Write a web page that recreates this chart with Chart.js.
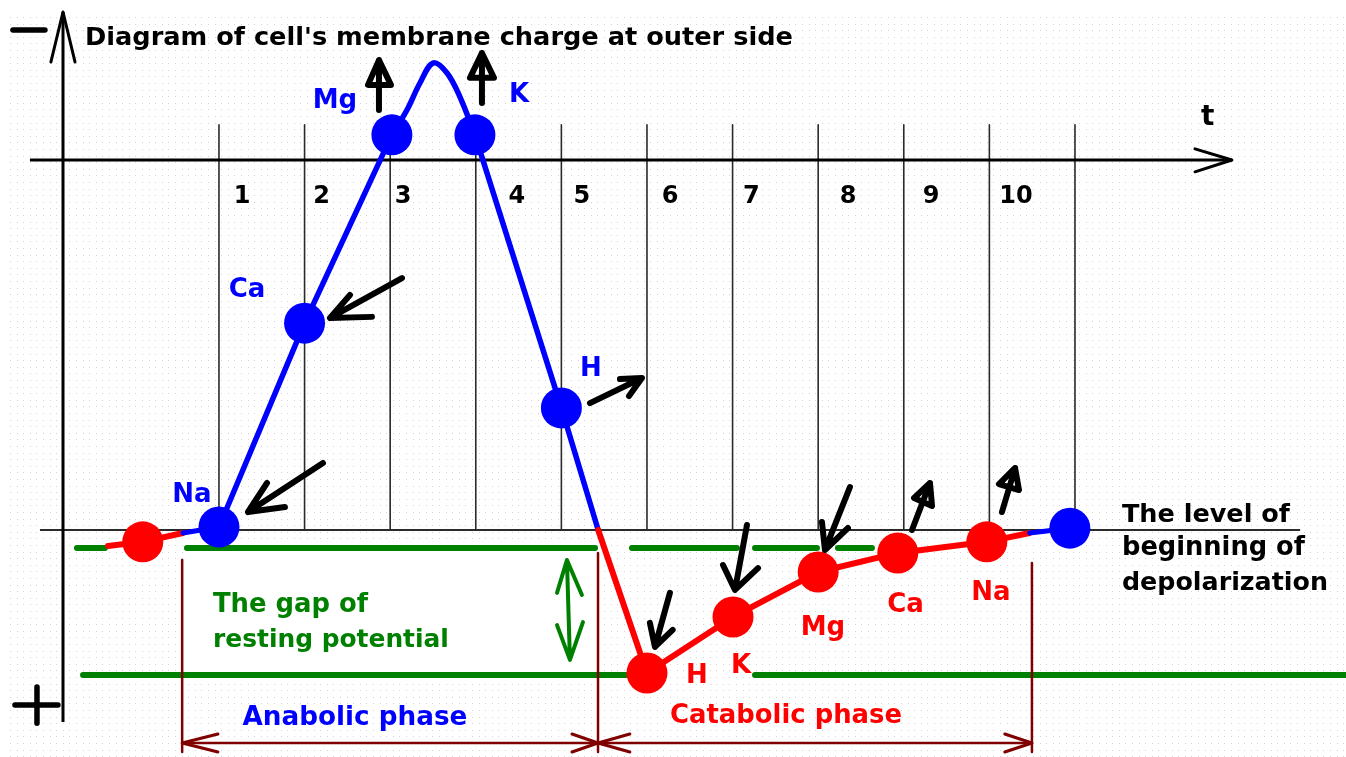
<!DOCTYPE html>
<html>
<head>
<meta charset="utf-8">
<script src="https://cdn.jsdelivr.net/npm/chart.js@4.4.1/dist/chart.umd.min.js"></script>
<style>
html,body{margin:0;padding:0;background:#fff;overflow:hidden;}
#wrap{width:1346px;height:757px;position:relative;}
</style>
</head>
<body>
<div id="wrap"><canvas id="c"></canvas></div>
<script>
// ---------------- DATA (x = time steps, y = membrane charge level) ----------------
const title = "Diagram of cell's membrane charge at outer side";
const tickLabels = ['1','2','3','4','5','6','7','8','9','10'];
const tickLabelX = [1.27, 2.20, 3.15, 4.48, 5.24, 6.27, 7.22, 8.35, 9.32, 10.31];
const tickLabelY = 8.84;
const gridX = [1,2,3,4,5,6,7,8,9,10,11];
const gridTop = 10.95;

// anabolic phase (blue)
const anaIons   = ['Na','Ca','Mg','K','H'];
const anaX      = [1.0, 2.0, 3.02, 3.99, 5.0];
const anaY      = [0.08, 5.59, 10.68, 10.68, 3.30];
const anaLabelX = [0.685, 1.327, 2.355, 4.505, 5.346];
const anaLabelY = [0.757, 6.297, 11.405, 11.568, 4.162];
const peakX     = [3.02, 3.196, 3.348, 3.50, 3.664, 3.816, 3.99];
const peakY     = [10.68, 11.35, 12.08, 12.62, 12.35, 11.70, 10.68];
const crossX    = 5.43;   // where the curve crosses the depolarization level

// catabolic phase (red)
const catIons   = ['H','K','Mg','Ca','Na'];
const catX      = [6.0, 7.005, 8.0, 8.93, 9.97];
const catY      = [-3.865, -2.35, -1.135, -0.62, -0.32];
const catLabelX = [6.584, 7.098, 8.056, 9.02, 10.019];
const catLabelY = [-4.135, -3.865, -2.838, -2.216, -1.892];
const catEndX   = [10.47, 10.94];
const catEndY   = [-0.08, 0.05];
const preX      = [-0.296, 0.110, 0.579, 1.0];
const preY      = [-0.43, -0.32, -0.08, 0.08];

// levels
const depolLevel = 0;
const depolExtent = [-1.091, 13.63];
const restTop = -0.486;
const restTopDashes = [[-0.659,-0.332],[0.626,5.393],[5.825,7.05],[7.262,7.986],[8.231,8.628]];
const restBottom = -3.92;
const restBottomSegs = [[-0.588,5.837],[7.262,14.2]];
const gapArrowTop = [[4.949,-1.70],[5.065,-0.81],[5.24,-1.757]];
const gapArrowBottom = [[4.949,-2.57],[5.10,-3.51],[5.252,-2.49]];
const gapText = ['The gap of','resting potential'];
const levelText = ['The level of','beginning of','depolarization'];

// phases
const phaseNames = ['Anabolic phase','Catabolic phase'];
const phaseBounds = [0.570, 5.428, 10.497];
const phaseTops = [-0.81, -0.62, -0.89];
const phaseBottom = -6.0;
const phaseArrowY = -5.757;

// ion-movement arrows: [tail, tip, wingA, wingB], solid = filled head
const ionArrows = [
  [[2.215,1.81],[1.339,0.486],[1.561,1.27],[1.771,0.62]],
  [[3.138,6.81],[2.297,5.73],[2.530,6.35],[2.787,5.76]],
  [[2.869,11.35],[2.869,12.70],[2.741,12.03],[3.009,12.03]],
  [[4.072,11.54],[4.072,12.89],[3.932,12.22],[4.213,12.22]],
  [[5.334,3.43],[5.941,4.11],[5.684,4.08],[5.79,3.62]],
  [[6.268,-1.70],[6.093,-3.16],[6.034,-2.51],[6.30,-2.70]],
  [[7.168,0.135],[7.028,-1.62],[6.888,-0.946],[7.297,-1.03]],
  [[8.371,1.16],[8.079,-0.54],[8.044,0.216],[8.348,0.054]],
  [[9.096,0.0],[9.306,1.27],[9.12,0.865],[9.33,0.65]],
  [[10.147,0.486],[10.30,1.676],[10.112,1.243],[10.346,1.081]]
];
const solidHeads = [false, false, true, true, false, false, false, false, true, true];

// axes
const yAxisX = -0.822, yAxisRange = [-5.19, 14.0];
const tAxisY = 10.0, tAxisRange = [-1.208, 12.833];

// ---------------- COLOURS ----------------
const BLUE = '#0000ff', RED = '#ff0000', GREEN = '#008000', MAROON = '#800000', BLACK = '#000000', GRIDC = '#2a2a2a';

// ---------------- BUILD DATASETS (bottom -> top) ----------------
const layers = [];
const P = (x, y) => ({x, y});
function line(points, color, width, extra) {
  layers.push(Object.assign({
    data: points, showLine: true, borderColor: color, backgroundColor: color,
    borderWidth: width, pointRadius: 0, tension: 0, spanGaps: false,
    borderCapStyle: 'round', borderJoinStyle: 'round', clip: false
  }, extra || {}));
}
function segments(list) {
  const out = [];
  list.forEach((seg, i) => {
    if (i) out.push(P(seg[0][0], null));
    seg.forEach(p => out.push(P(p[0], p[1])));
  });
  return out;
}
function dots(xs, ys, color) {
  layers.push({
    data: xs.map((x, i) => P(x, ys[i])), showLine: false,
    pointRadius: 20.5, pointStyle: 'circle', backgroundColor: color,
    borderColor: color, borderWidth: 0, clip: false
  });
}

// grid verticals
line(segments(gridX.map(g => [[g, gridTop], [g, depolLevel]])), GRIDC, 1.6, {borderCapStyle: 'butt'});
// depolarization level
line([P(depolExtent[0], depolLevel), P(depolExtent[1], depolLevel)], GRIDC, 1.8, {borderCapStyle: 'butt'});
// axes
line([P(yAxisX, yAxisRange[0]), P(yAxisX, yAxisRange[1])], BLACK, 3, {borderCapStyle: 'butt'});
line([P(-0.963, 12.65), P(yAxisX, yAxisRange[1]), P(-0.682, 12.65)], BLACK, 3);
line([P(tAxisRange[0], tAxisY), P(tAxisRange[1], tAxisY)], BLACK, 3.2, {borderCapStyle: 'butt'});
line([P(12.402, 10.30), P(tAxisRange[1], tAxisY), P(12.402, 9.68)], BLACK, 3);
line([P(-1.407, 13.51), P(-1.033, 13.51)], BLACK, 5.5);
line(segments([[[-1.383,-4.73],[-0.881,-4.73]], [[-1.126,-4.24],[-1.126,-5.22]]]), BLACK, 5.5);

// green levels
line(segments(restTopDashes.map(d => [[d[0], restTop], [d[1], restTop]])), GREEN, 6);
line(segments(restBottomSegs.map(d => [[d[0], restBottom], [d[1], restBottom]])), GREEN, 6);
line([P(gapArrowTop[0][0], gapArrowTop[0][1]), P(gapArrowTop[1][0], gapArrowTop[1][1]), P(gapArrowTop[2][0], gapArrowTop[2][1]),
      P(gapArrowTop[1][0], gapArrowTop[1][1]), P(gapArrowBottom[1][0], gapArrowBottom[1][1]),
      P(gapArrowBottom[0][0], gapArrowBottom[0][1]), P(gapArrowBottom[1][0], gapArrowBottom[1][1]), P(gapArrowBottom[2][0], gapArrowBottom[2][1])],
     GREEN, 4);

// phase bounds (maroon)
line(segments(phaseBounds.map((b, i) => [[b, phaseTops[i]], [b, phaseBottom]])), MAROON, 2.5, {borderCapStyle: 'butt'});
line([P(phaseBounds[0], phaseArrowY), P(phaseBounds[2], phaseArrowY)], MAROON, 2.5, {borderCapStyle: 'butt'});
line(segments([
  [[0.988,-5.514],[phaseBounds[0],phaseArrowY],[0.988,-6.0]],
  [[5.124,-5.514],[phaseBounds[1],phaseArrowY],[5.124,-6.0]],
  [[5.80,-5.514],[phaseBounds[1],phaseArrowY],[5.80,-6.0]],
  [[10.18,-5.514],[phaseBounds[2],phaseArrowY],[10.18,-6.0]]
]), MAROON, 3);

// curves
line(preX.slice(0, 3).map((x, i) => P(x, preY[i])), RED, 6);
line([P(preX[2], preY[2]), P(preX[3], preY[3])], BLUE, 5);
line([P(anaX[0], anaY[0]), P(anaX[1], anaY[1]), P(anaX[2], anaY[2])], BLUE, 5.5);
line(peakX.map((x, i) => P(x, peakY[i])), BLUE, 5.5, {tension: 0.35});
line([P(anaX[3], anaY[3]), P(anaX[4], anaY[4]), P(crossX, depolLevel)], BLUE, 5.5);
line([P(crossX, depolLevel)].concat(catX.map((x, i) => P(x, catY[i]))).concat([P(catEndX[0], catEndY[0])]), RED, 6);
line([P(catEndX[0], catEndY[0]), P(catEndX[1], catEndY[1])], BLUE, 5);

// dots
dots([preX[1]], [preY[1]], RED);
dots(catX, catY, RED);
dots(anaX.concat([catEndX[1]]), anaY.concat([catEndY[1]]), BLUE);

// ion arrows
ionArrows.forEach((a, i) => {
  const pts = solidHeads[i]
    ? [P(a[0][0], a[0][1]), P(a[1][0], a[1][1]), P(a[2][0], a[2][1]), P(a[3][0], a[3][1]), P(a[1][0], a[1][1])]
    : [P(a[0][0], a[0][1]), P(a[1][0], a[1][1]), P(a[2][0], a[2][1]), P(a[1][0], a[1][1]), P(a[3][0], a[3][1])];
  line(pts, BLACK, 6);
});

const N = layers.length;
layers.forEach((d, i) => { d.order = N - i; });

// ---------------- TEXT ANNOTATIONS ----------------
const FONT = '"DejaVu Sans", "Liberation Sans", sans-serif';
const texts = [];
function txt(t, x, y, color, size, align, fit) { texts.push({t, x, y, color, size, align, fit}); }
txt(title, -0.565, 13.108, BLACK, 25, 'left', 708);
txt('t', 12.55, 10.946, BLACK, 28, 'center');
tickLabels.forEach((t, i) => txt(t, tickLabelX[i], tickLabelY, BLACK, 24, 'center'));
anaIons.forEach((t, i) => txt(t, anaLabelX[i], anaLabelY[i], BLUE, 26, 'center'));
catIons.forEach((t, i) => txt(t, catLabelX[i], catLabelY[i], RED, 26, 'center'));
txt(gapText[0], 0.930, -2.216, GREEN, 25, 'left', 155);
txt(gapText[1], 0.930, -3.162, GREEN, 25, 'left', 236);
txt(phaseNames[0], 2.588, -5.27, BLUE, 25, 'center', 225);
txt(phaseNames[1], 7.624, -5.216, RED, 25, 'center', 232);
txt(levelText[0], 11.549, 0.216, BLACK, 25, 'left', 168);
txt(levelText[1], 11.549, -0.676, BLACK, 25, 'left', 183);
txt(levelText[2], 11.549, -1.622, BLACK, 25, 'left', 206);

const backgroundPlugin = {
  id: 'paper',
  beforeDraw(chart) {
    const {ctx, width, height, scales: {x, y}} = chart;
    ctx.save();
    ctx.fillStyle = '#ffffff';
    ctx.fillRect(0, 0, width, height);
    ctx.fillStyle = '#d4d4d4';
    for (let py = 17; py < height; py += 6.6) {
      for (let px = 10; px < width; px += 6.6) {
        ctx.fillRect(Math.round(px), Math.round(py), 1, 1);
      }
    }
    const x0 = x.getPixelForValue(phaseBounds[0]) + 2, x1 = x.getPixelForValue(phaseBounds[1]) - 2;
    const y0 = y.getPixelForValue(restTop) + 4, y1 = y.getPixelForValue(restBottom) - 4;
    ctx.fillStyle = '#ffffff';
    ctx.fillRect(x0, y0, x1 - x0, y1 - y0);
    ctx.restore();
  }
};
const textPlugin = {
  id: 'texts',
  afterDatasetsDraw(chart) {
    const {ctx, scales: {x, y}} = chart;
    ctx.save();
    ctx.textBaseline = 'alphabetic';
    texts.forEach(o => {
      let size = o.size;
      ctx.font = 'bold ' + size + 'px ' + FONT;
      if (o.fit) {
        const w = ctx.measureText(o.t).width;
        size = size * o.fit / w;
        ctx.font = 'bold ' + size.toFixed(2) + 'px ' + FONT;
      }
      ctx.fillStyle = o.color;
      ctx.textAlign = o.align;
      ctx.fillText(o.t, x.getPixelForValue(o.x), y.getPixelForValue(o.y));
    });
    ctx.restore();
  }
};

new Chart(document.getElementById('c'), {
  type: 'scatter',
  data: {datasets: layers},
  options: {
    responsive: true, maintainAspectRatio: false, animation: false, events: [],
    layout: {padding: 0, autoPadding: false},
    plugins: {legend: {display: false}, tooltip: {enabled: false}},
    scales: {
      x: {type: 'linear', min: -1.558, max: 14.166, display: false},
      y: {type: 'linear', min: -6.135, max: 14.324, display: false}
    }
  },
  plugins: [backgroundPlugin, textPlugin]
});
</script>
</body>
</html>
